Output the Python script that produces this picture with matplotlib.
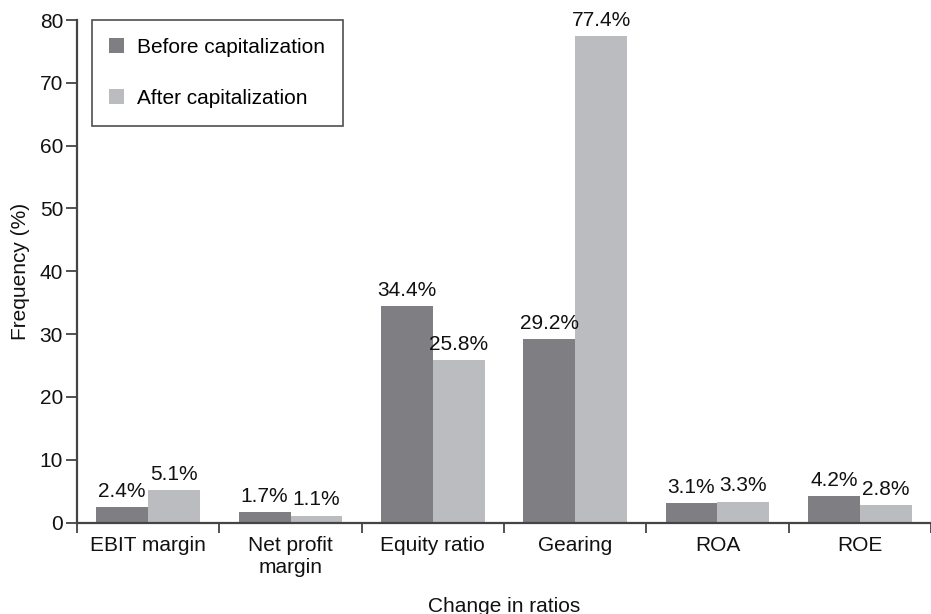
import matplotlib
matplotlib.use("Agg")
from matplotlib import pyplot as plt
import numpy as np

plt.rcParams['font.family'] = ['Liberation Sans', 'DejaVu Sans']

categories = ['EBIT margin', 'Net profit\nmargin', 'Equity ratio', 'Gearing', 'ROA', 'ROE']
before = [2.4, 1.7, 34.4, 29.2, 3.1, 4.2]
after = [5.1, 1.1, 25.8, 77.4, 3.3, 2.8]
series_names = ['Before capitalization', 'After capitalization']

c_before = '#7f7f83'
c_after = '#bbbcc0'
axis_c = '#444444'
txt_c = '#111111'
fs = 15

fig = plt.figure(figsize=(9.31, 6.14), dpi=100)
ax = fig.add_axes([77/931, (614-522.5)/614, (931-77)/931, (522.5-20)/614])

x = np.arange(len(categories))
w = 0.365
b1 = ax.bar(x - w/2, before, w, color=c_before, label=series_names[0])
b2 = ax.bar(x + w/2, after, w, color=c_after, label=series_names[1])

# value labels above bars
for bars, vals in ((b1, before), (b2, after)):
    for r, v in zip(bars, vals):
        ax.text(r.get_x() + r.get_width()/2, v + 1.0, f'{v:.1f}%',
                ha='center', va='bottom', fontsize=fs, color=txt_c)

ax.set_ylim(0, 80)
ax.set_xlim(-0.5, 5.5 - 6.4/143.4)
ax.set_yticks(range(0, 81, 10))
ax.set_xticks(np.arange(-0.5, 6, 1))
ax.set_xticklabels([])
ax.set_xticks(x, minor=True)
ax.set_xticklabels(categories, minor=True, fontsize=fs, color=txt_c)
ax.tick_params(axis='x', which='minor', length=0, pad=10)
ax.tick_params(axis='x', which='major', length=7, width=1.3, color=axis_c, direction='out')
ax.tick_params(axis='y', length=8, width=1.3, color=axis_c, labelsize=fs, labelcolor=txt_c, pad=2)

for s in ('top', 'right'):
    ax.spines[s].set_visible(False)
for s in ('left', 'bottom'):
    ax.spines[s].set_linewidth(1.6)
    ax.spines[s].set_color(axis_c)

ax.set_ylabel('Frequency (%)', fontsize=fs, color=txt_c, labelpad=7)
ax.set_xlabel('Change in ratios', fontsize=fs, color=txt_c, labelpad=14)

leg = ax.legend(loc='upper left', bbox_to_anchor=(14.5/854, 1.0), fontsize=fs,
                frameon=True, fancybox=False, handlelength=0.7, handleheight=0.7,
                borderpad=0.85, labelspacing=1.55, handletextpad=0.65, borderaxespad=0)
leg.get_frame().set_edgecolor('#222222')
leg.get_frame().set_linewidth(1.2)

fig.savefig('out.png', dpi=100)
